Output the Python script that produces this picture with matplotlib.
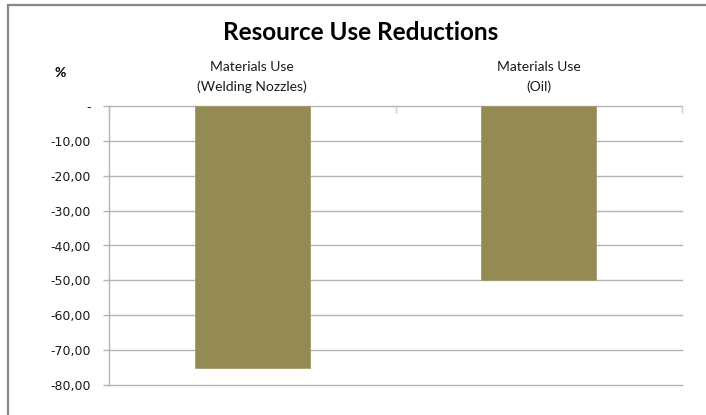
import matplotlib
matplotlib.use("Agg")
import matplotlib.pyplot as plt
from matplotlib.patches import Rectangle
from matplotlib.ticker import FixedLocator
from matplotlib.transforms import blended_transform_factory

# Data
categories = ["Materials Use\n(Welding Nozzles)", "Materials Use\n(Oil)"]
values = [-75.0, -50.0]
y_ticks = [0, -10, -20, -30, -40, -50, -60, -70, -80]
y_tick_labels = ["-", "-10,00", "-20,00", "-30,00", "-40,00", "-50,00", "-60,00", "-70,00", "-80,00"]

W, H = 706, 415
fig = plt.figure(figsize=(W / 100, H / 100), dpi=100)
fig.patch.set_facecolor("white")

# Chart frame (top and left edges visible)
fig.patches.append(Rectangle((8 / W, -0.1), 1.2, (H - 5) / H + 0.1,
                             transform=fig.transFigure, fill=False,
                             edgecolor="#868686", linewidth=1.6))

ax = fig.add_axes([109 / W, 1 - 385 / H, (682 - 109) / W, (385 - 106) / H])
x = list(range(len(categories)))
ax.bar(x, values, width=0.4, color="#948A54", edgecolor="#A59C6A", linewidth=0.6, zorder=3)

ax.set_xlim(-0.5, len(categories) - 0.5)
ax.set_ylim(-80, 0)
ax.set_yticks(y_ticks)
ax.set_yticklabels(y_tick_labels, fontsize=9, family="DejaVu Sans", color="#1a1a1a")
ax.tick_params(axis="y", length=4, width=1, color="#B3B3B3", pad=9)
for yv in y_ticks:
    ax.axhline(yv, color="#B3B3B3", linewidth=1, zorder=0, clip_on=False)

# Category axis sits at zero (top), with separator ticks pointing down
ax.xaxis.set_major_locator(FixedLocator([-0.5, 0.5, 1.5]))
ax.set_xticklabels([])
ax.tick_params(axis="x", direction="in", length=5, width=1, color="#D0D0D0",
               top=True, bottom=False, labeltop=False, labelbottom=False)

for s in ["right", "bottom", "top"]:
    ax.spines[s].set_visible(False)
ax.spines["left"].set_color("#B3B3B3")
ax.spines["left"].set_linewidth(1)

# Category names above the plot area
label_tf = blended_transform_factory(ax.transData, fig.transFigure)
for xi, cat in zip(x, categories):
    ax.text(xi, 1 - 77 / H, cat, transform=label_tf,
            ha="center", va="center", fontsize=10, family="Lato", color="#1a1a1a",
            linespacing=1.65)

fig.text(361 / W, 1 - 33 / H, "Resource Use Reductions", ha="center", va="center",
         fontsize=17.5, fontweight="bold", family="Lato", color="black")
fig.text(60 / W, 1 - 73 / H, "%", ha="center", va="center",
         fontsize=10, fontweight="bold", family="Lato", color="black")

fig.savefig("out.png", dpi=100, facecolor="white")
